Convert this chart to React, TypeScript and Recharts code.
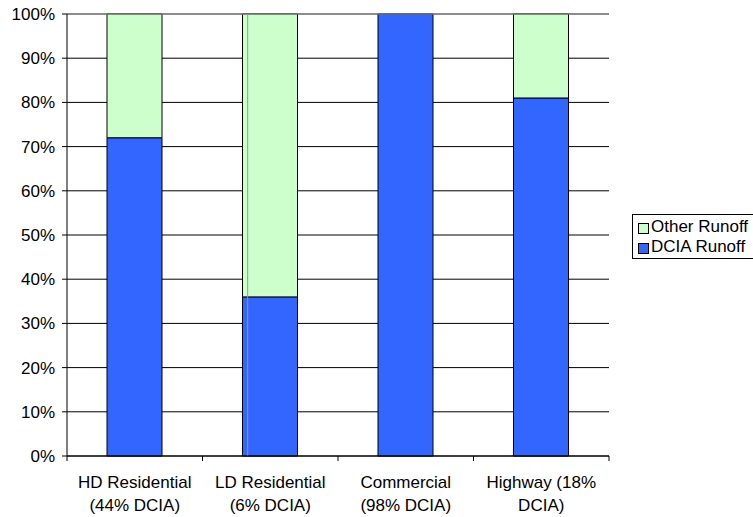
import React from "react";
import {
  BarChart,
  Bar,
  XAxis,
  YAxis,
  CartesianGrid,
  ReferenceLine,
} from "recharts";

const CATEGORIES = [
  ["HD Residential", "(44% DCIA)"],
  ["LD Residential", "(6% DCIA)"],
  ["Commercial", "(98% DCIA)"],
  ["Highway (18%", "DCIA)"],
];
const DCIA_RUNOFF = [72, 36, 100, 81];
const OTHER_RUNOFF = [28, 64, 0, 19];
const Y_TICKS = [0, 10, 20, 30, 40, 50, 60, 70, 80, 90, 100];

const WIDTH = 753;
const HEIGHT = 517;
const MARGIN = { top: 14, right: 144, bottom: 0, left: 0 };
const Y_AXIS_WIDTH = 67;
const X_AXIS_HEIGHT = 61;
const FONT = "'Liberation Sans', Arial, sans-serif";
const FONT_SIZE = 17;
const BLUE = "#3366FF";
const GREEN = "#CCFFCC";

const HALF_BAND =
  (WIDTH - MARGIN.left - MARGIN.right - Y_AXIS_WIDTH) / CATEGORIES.length / 2;

const data = CATEGORIES.map((lines, i) => ({
  name: lines.join(" "),
  dcia: DCIA_RUNOFF[i],
  other: OTHER_RUNOFF[i],
}));

// eslint-disable-next-line @typescript-eslint/no-explicit-any
const CategoryTick = (props: any) => {
  const { x, y, index } = props;
  const lines = CATEGORIES[index] ?? [];
  const last = index === CATEGORIES.length - 1;
  return (
    <g>
      <line x1={x - HALF_BAND} x2={x - HALF_BAND} y1={y} y2={y + 5} stroke="#000" />
      {last && (
        <line x1={x + HALF_BAND} x2={x + HALF_BAND} y1={y} y2={y + 5} stroke="#000" />
      )}
      {lines.map((t, i) => (
        <text
          key={i}
          x={x}
          y={y + 32 + i * 23}
          textAnchor="middle"
          fontFamily={FONT}
          fontSize={FONT_SIZE}
          fill="#000"
        >
          {t}
        </text>
      ))}
    </g>
  );
};

const LegendBox = () => (
  <div
    style={{
      position: "absolute",
      left: 632,
      top: 214,
      width: 130,
      height: 45,
      border: "1px solid #000",
      background: "#fff",
      fontFamily: FONT,
      fontSize: FONT_SIZE,
      color: "#000",
      boxSizing: "border-box",
    }}
  >
    {[
      { label: "Other Runoff", color: GREEN },
      { label: "DCIA Runoff", color: BLUE },
    ].map((item, i) => (
      <div
        key={item.label}
        style={{
          position: "absolute",
          left: 5,
          top: 2 + i * 20,
          height: 20,
          display: "flex",
          alignItems: "center",
          whiteSpace: "nowrap",
        }}
      >
        <span
          style={{
            display: "inline-block",
            width: 9,
            height: 9,
            background: item.color,
            border: "1px solid #000",
            marginRight: 2,
            marginTop: 3,
          }}
        />
        {item.label}
      </div>
    ))}
  </div>
);

export default function App() {
  return (
    <div
      style={{
        position: "absolute",
        left: 0,
        top: 0,
        width: WIDTH,
        height: HEIGHT,
        background: "#fff",
        overflow: "hidden",
      }}
    >
      <BarChart
        width={WIDTH}
        height={HEIGHT}
        data={data}
        margin={MARGIN}
        barSize={55}
      >
        <CartesianGrid horizontal vertical={false} stroke="#000" strokeWidth={1} />
        <XAxis
          dataKey="name"
          height={X_AXIS_HEIGHT}
          axisLine={{ stroke: "#000" }}
          tickLine={false}
          tickSize={0}
          tickMargin={0}
          interval={0}
          tick={<CategoryTick />}
        />
        <XAxis xAxisId="frame" type="number" domain={[0, 1]} hide />
        <YAxis
          width={Y_AXIS_WIDTH}
          domain={[0, 100]}
          ticks={Y_TICKS}
          interval={0}
          tickFormatter={(v: number) => `${v}%`}
          axisLine={{ stroke: "#000" }}
          tickLine={{ stroke: "#000" }}
          tickSize={5}
          tickMargin={7}
          tick={{ fill: "#000", fontFamily: FONT, fontSize: FONT_SIZE }}
        />
        <Bar
          dataKey="dcia"
          stackId="a"
          fill={BLUE}
          stroke="#000"
          strokeWidth={1}
          isAnimationActive={false}
        />
        <Bar
          dataKey="other"
          stackId="a"
          fill={GREEN}
          stroke="#000"
          strokeWidth={1}
          isAnimationActive={false}
        />
        <ReferenceLine y={100} stroke="#999" />
        <ReferenceLine x={1} xAxisId="frame" stroke="#999" />
      </BarChart>
      <LegendBox />
    </div>
  );
}
